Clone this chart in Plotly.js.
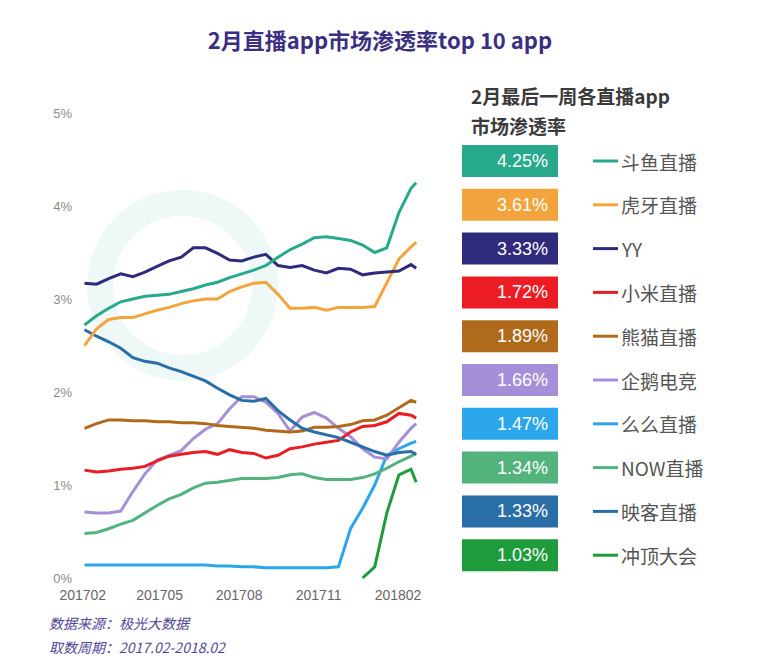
<!DOCTYPE html>
<html>
<head>
<meta charset="utf-8">
<script src="https://cdn.plot.ly/plotly-3.0.1.min.js"></script>
<style>html,body{margin:0;padding:0;background:#fff;}#chart{width:758px;height:659px;}</style>
</head>
<body>
<div id="chart"></div>
<script>
// ---- data ----
const weeks = ['2017-02-03','2017-02-17','2017-03-03','2017-03-17','2017-03-31','2017-04-14','2017-04-28',
  '2017-05-12','2017-05-26','2017-06-09','2017-06-23','2017-07-07','2017-07-21','2017-08-04','2017-08-18',
  '2017-09-01','2017-09-15','2017-09-29','2017-10-13','2017-10-27','2017-11-10','2017-11-24','2017-12-08',
  '2017-12-22','2018-01-05','2018-01-19','2018-02-02','2018-02-16','2018-02-22'];

const douyu    = [2.72,2.82,2.90,2.97,3.00,3.03,3.04,3.05,3.08,3.11,3.15,3.18,3.23,3.27,3.31,3.36,3.45,3.53,3.59,3.66,3.67,3.65,3.63,3.58,3.50,3.55,3.93,4.19,4.25];
const huya     = [2.50,2.68,2.78,2.80,2.80,2.84,2.88,2.91,2.95,2.98,3.00,3.00,3.08,3.13,3.17,3.18,3.05,2.90,2.90,2.91,2.88,2.91,2.91,2.91,2.92,3.17,3.43,3.56,3.61];
const yy       = [3.17,3.16,3.22,3.27,3.24,3.29,3.35,3.41,3.45,3.55,3.55,3.49,3.42,3.41,3.45,3.48,3.36,3.34,3.36,3.31,3.28,3.33,3.32,3.26,3.28,3.29,3.30,3.37,3.33];
const xiaomi   = [1.16,1.14,1.15,1.17,1.18,1.20,1.26,1.31,1.33,1.35,1.36,1.33,1.38,1.35,1.34,1.29,1.32,1.39,1.41,1.44,1.46,1.48,1.57,1.63,1.64,1.68,1.77,1.75,1.72];
const xiongmao = [1.61,1.66,1.70,1.70,1.69,1.69,1.68,1.68,1.67,1.67,1.66,1.64,1.63,1.62,1.61,1.59,1.58,1.57,1.58,1.62,1.62,1.63,1.65,1.69,1.70,1.75,1.83,1.91,1.89];
const qie      = [0.71,0.70,0.70,0.72,0.93,1.12,1.27,1.32,1.37,1.50,1.60,1.66,1.82,1.95,1.95,1.89,1.77,1.58,1.73,1.78,1.72,1.61,1.52,1.39,1.30,1.28,1.46,1.61,1.66];
const meme     = [0.14,0.14,0.14,0.14,0.14,0.14,0.14,0.14,0.14,0.14,0.14,0.13,0.13,0.12,0.12,0.11,0.11,0.11,0.11,0.11,0.11,0.12,0.53,0.75,1.00,1.32,1.39,1.45,1.47];
const nowzb    = [0.48,0.49,0.53,0.58,0.62,0.70,0.78,0.85,0.90,0.97,1.02,1.03,1.05,1.07,1.07,1.07,1.08,1.11,1.12,1.08,1.06,1.06,1.06,1.08,1.12,1.18,1.25,1.31,1.34];
const yingke   = [2.67,2.60,2.54,2.47,2.37,2.33,2.31,2.26,2.22,2.17,2.12,2.04,1.97,1.91,1.90,1.93,1.80,1.70,1.61,1.57,1.54,1.51,1.46,1.41,1.36,1.32,1.35,1.36,1.33];
const chongding= [null,null,null,null,null,null,null,null,null,null,null,null,null,null,null,null,null,null,null,null,null,null,null,0.00,0.12,0.70,1.11,1.17,1.03];

const names  = ['斗鱼直播','虎牙直播','YY','小米直播','熊猫直播','企鹅电竞','么么直播','NOW直播','映客直播','冲顶大会'];
const series = [douyu, huya, yy, xiaomi, xiongmao, qie, meme, nowzb, yingke, chongding];
const colors = ['#27AA8B','#F4A43C','#2F2A7C','#EB1C24','#B06A1B','#A48FD8','#2CA6EA','#52B47C','#2A6EA8','#1E9C3B'];

const xTickVals = ['2017-02-01','2017-05-01','2017-08-01','2017-11-01','2018-02-01'];
const xTickText = ['201702','201705','201708','201711','201802'];
const yTickVals = [0,1,2,3,4,5];
const yTickText = ['0%','1%','2%','3%','4%','5%'];

const titleText = '2月直播app市场渗透率top 10 app';
const panelTitle1 = '2月最后一周各直播app';
const panelTitle2 = '市场渗透率';
const footer1 = '数据来源：极光大数据';
const footer2 = '取数周期：2017.02-2018.02';

// ---- layout geometry (pixels) ----
const W = 758, H = 659;
const L = 75, R = 430, T = 105, B = 585;
const pw = R - L, ph = B - T;
const px = p => (p - L) / pw;
const py = p => (B - p) / ph;

const CJK = '"Noto Sans CJK SC", "Liberation Sans", sans-serif';
const LAT = '"Liberation Sans", "Noto Sans CJK SC", sans-serif';

// draw order: back to front
const order = [6,9,7,5,4,3,8,1,2,0];
const traces = order.map(i => ({
  x: weeks, y: series[i], type: 'scatter', mode: 'lines', name: names[i],
  line: {color: colors[i], width: 3}, connectgaps: false, hoverinfo: 'skip'
}));

const shapes = [];
const annotations = [];

// faint logo ring (drawn below traces)
shapes.push({type:'circle', xref:'paper', yref:'paper', layer:'below',
  x0: px(100), x1: px(265), y0: py(368), y1: py(203),
  line:{color:'rgba(39,170,139,0.08)', width:26}, fillcolor:'rgba(0,0,0,0)'});

// right-hand panel
const rowTop = 161, rowStep = 43.8;
names.forEach((nm, i) => {
  const cy = rowTop + i * rowStep;
  const data = series[i];
  const last = data[data.length - 1];
  shapes.push({type:'rect', xref:'paper', yref:'paper', layer:'above',
    x0: px(462), x1: px(558), y0: py(cy + 16), y1: py(cy - 16),
    fillcolor: colors[i], line:{width:0}});
  annotations.push({xref:'paper', yref:'paper', x: px(550), y: py(cy), xanchor:'right', yanchor:'middle',
    text: last.toFixed(2) + '%', showarrow:false, font:{family:LAT, size:18, color:'#ffffff'}});
  shapes.push({type:'line', xref:'paper', yref:'paper', layer:'above',
    x0: px(593), x1: px(618), y0: py(cy), y1: py(cy), line:{color: colors[i], width:3}});
  annotations.push({xref:'paper', yref:'paper', x: px(619), y: py(cy), xanchor:'left', yanchor:'middle',
    text: nm, showarrow:false, font:{family:CJK, size:19, color:'#555555'}});
});

annotations.push({xref:'paper', yref:'paper', x: px(469), y: py(96), xanchor:'left', yanchor:'middle',
  text:'<b>' + panelTitle1 + '</b>', showarrow:false, font:{family:CJK, size:19, color:'#3a3a3a'}});
annotations.push({xref:'paper', yref:'paper', x: px(469), y: py(126), xanchor:'left', yanchor:'middle',
  text:'<b>' + panelTitle2 + '</b>', showarrow:false, font:{family:CJK, size:19, color:'#3a3a3a'}});

annotations.push({xref:'paper', yref:'paper', x: px(47), y: py(623), xanchor:'left', yanchor:'middle',
  text: footer1, showarrow:false, font:{family:CJK, size:14, color:'#54479A', style:'italic'}});
annotations.push({xref:'paper', yref:'paper', x: px(47), y: py(647), xanchor:'left', yanchor:'middle',
  text: footer2, showarrow:false, font:{family:CJK, size:14, color:'#54479A', style:'italic'}});

const layout = {
  width: W, height: H,
  margin: {l: L, r: W - R, t: T, b: H - B, pad: 0},
  paper_bgcolor: '#ffffff', plot_bgcolor: 'rgba(0,0,0,0)',
  showlegend: false,
  title: {text: '<b>' + titleText + '</b>', x: 380 / W, xanchor: 'center', xref: 'container',
    y: 1 - 41 / H, yanchor: 'middle', yref: 'container',
    font: {family: CJK, size: 22, color: '#3B2F82'}},
  xaxis: {type: 'date', range: ['2017-01-23', '2018-03-10'], tickvals: xTickVals, ticktext: xTickText,
    showgrid: false, zeroline: false, showline: false, ticks: '',
    tickfont: {family: LAT, size: 14, color: '#666666'}, fixedrange: true},
  yaxis: {range: [-0.075, 5.086], tickvals: yTickVals, ticktext: yTickText,
    showgrid: false, zeroline: false, showline: false, ticks: '', ticklabelstandoff: 2,
    tickfont: {family: LAT, size: 13, color: '#8a8a8a'}, fixedrange: true},
  shapes: shapes,
  annotations: annotations
};

Plotly.newPlot('chart', traces, layout, {displayModeBar: false, staticPlot: true});
</script>
</body>
</html>
